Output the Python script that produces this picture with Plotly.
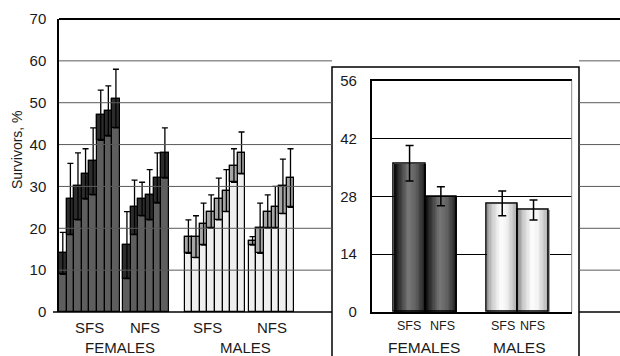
import plotly.graph_objects as go

# ---------------- data (main chart) ----------------
group_labels = ["SFS", "NFS", "SFS", "NFS"]
sex_labels = ["FEMALES", "MALES"]

female_sfs = [14, 27, 30, 33, 36, 47, 48, 51]
female_sfs_err = [5, 8.5, 8, 6, 8, 6, 6, 7]
female_nfs = [16, 25, 27, 28, 32, 38]
female_nfs_err = [8, 6.5, 4, 6, 6, 6]
male_sfs = [18, 18, 21, 24, 27, 29, 35, 38]
male_sfs_err = [4, 5, 5, 4, 5, 5, 4, 5]
male_nfs = [17, 20, 24, 25, 30, 32]
male_nfs_err = [1, 6, 4, 5, 6.5, 7]

y_ticks = [0, 10, 20, 30, 40, 50, 60, 70]

# ---------------- data (inset) ----------------
inset_cats = ["SFS", "NFS"]
inset_female = [36, 28]
inset_female_err = [4.3, 2.3]
inset_male = [26.3, 24.7]
inset_male_err = [3.0, 2.4]
inset_ticks = [0, 14, 28, 42, 56]

# ---------------- layout geometry ----------------
W, H = 620, 356
ML, MR, MT, MB = 59, 0, 19, 44
PW, PH = W - ML - MR, H - MT - MB
BAR_PX = 7.59
group_starts = [0, 8.45, 16.55, 25.0]
FONT = "Liberation Sans, Arial, Helvetica, sans-serif"


def px_x(px):
    return (px - ML) / PW


def px_y(py):
    return (MT + PH - py) / PH


fig = go.Figure()

main_sets = [
    (female_sfs, female_sfs_err, "#5e5e5e", "#2c2c2c"),
    (female_nfs, female_nfs_err, "#5e5e5e", "#2c2c2c"),
    (male_sfs, male_sfs_err, "#efefef", "#a6a6a6"),
    (male_nfs, male_nfs_err, "#efefef", "#a6a6a6"),
]
for (vals, errs, col, band), start in zip(main_sets, group_starts):
    xs = [start + i + 0.5 for i in range(len(vals))]
    fig.add_trace(go.Bar(
        x=xs, y=vals, width=1, marker=dict(color=col, line=dict(color="#000", width=1.2)),
        showlegend=False, xaxis="x", yaxis="y"))
    fig.add_trace(go.Bar(
        x=xs, y=errs, base=[v - e for v, e in zip(vals, errs)], width=1,
        marker=dict(color=band, line=dict(color="#000", width=1.2)),
        error_y=dict(type="data", array=errs, symmetric=True, color="#000", thickness=1.3, width=3),
        showlegend=False, xaxis="x", yaxis="y"))

# ---------------- inset bars with cylinder shading ----------------
inset_x = [1.21, 2.21, 4.17, 5.17]
inset_vals = inset_female + inset_male
inset_errs = inset_female_err + inset_male_err

fem_prof = [(0, 8), (0.15, 48), (0.45, 120), (0.7, 96), (0.9, 48), (1.0, 20)]
male_prof = [(0, 140), (0.15, 200), (0.42, 252), (0.62, 244), (0.85, 196), (1.0, 160)]


def interp(prof, t):
    for (t0, v0), (t1, v1) in zip(prof[:-1], prof[1:]):
        if t0 <= t <= t1:
            return v0 + (v1 - v0) * (t - t0) / (t1 - t0)
    return prof[-1][1]


N = 24
for k in range(N):
    t = (k + 0.5) / N
    off = -0.5 + k / N
    wdt = min(2.0 / N, 0.5 - off)
    gf = int(round(interp(fem_prof, t)))
    gm = int(round(interp(male_prof, t)))
    cf = f"rgb({gf},{gf},{gf})"
    cm = f"rgb({gm},{gm},{gm})"
    fig.add_trace(go.Bar(
        x=inset_x, y=inset_vals, width=wdt, offset=off,
        marker=dict(color=[cf, cf, cm, cm], line=dict(width=0)),
        showlegend=False, xaxis="x2", yaxis="y2"))

fig.add_trace(go.Bar(
    x=inset_x, y=inset_vals, width=1,
    marker=dict(color="rgba(0,0,0,0)", line=dict(color="#000", width=1.5)),
    error_y=dict(type="data", array=inset_errs, symmetric=True, color="#000", thickness=1.5, width=4),
    showlegend=False, xaxis="x2", yaxis="y2"))

# ---------------- shapes ----------------
box_x0, box_x1 = px_x(332), px_x(579)
box_top = px_y(67)
shapes = []
ymax = y_ticks[-1]
for v in y_ticks:
    yy = v / ymax
    if v == ymax:
        shapes.append(dict(type="line", xref="paper", yref="paper", x0=0, x1=1, y0=yy, y1=yy,
                           line=dict(color="#000", width=2)))
        continue
    col = "#000" if v == 0 else "#5a5a5a"
    wd = 1.3 if v == 0 else 1
    x_start = px_x(53) if v == 0 else 0
    shapes.append(dict(type="line", xref="paper", yref="paper", x0=x_start, x1=box_x0, y0=yy, y1=yy,
                       line=dict(color=col, width=wd)))
    shapes.append(dict(type="line", xref="paper", yref="paper", x0=box_x1, x1=1, y0=yy, y1=yy,
                       line=dict(color=col, width=wd)))

shapes.append(dict(type="rect", xref="paper", yref="paper", x0=box_x0, x1=box_x1, y0=-0.4, y1=box_top,
                   line=dict(color="#000", width=1.5), fillcolor="rgba(0,0,0,0)", layer="below"))
shapes.append(dict(type="line", xref="x2 domain", yref="y2 domain", x0=1, x1=1, y0=0, y1=1,
                   line=dict(color="#8a8a8a", width=1)))

# ---------------- annotations ----------------
ann = []


def label(text, px, py, size, angle=0):
    ann.append(dict(text=text, xref="paper", yref="paper", x=px_x(px), y=px_y(py),
                    xanchor="center", yanchor="middle", textangle=angle, showarrow=False,
                    font=dict(size=size, color="#1a1a1a", family=FONT)))


label("Survivors, %", 17, 150, 14, -90)
for lab, px in zip(group_labels, [89, 145, 207, 272]):
    label(lab, px, 327, 15)
for lab, px in zip(sex_labels, [120, 245]):
    label(lab, px, 347, 15)
for lab, px in zip(inset_cats + inset_cats, [409, 442, 503, 532]):
    label(lab, px, 326, 12.5)
for lab, px in zip(sex_labels, [424, 519]):
    label(lab, px, 347, 15.5)

fig.update_layout(
    width=W, height=H,
    margin=dict(l=ML, r=MR, t=MT, b=MB, pad=0),
    paper_bgcolor="white", plot_bgcolor="rgba(0,0,0,0)",
    barmode="overlay", bargap=0,
    font=dict(family=FONT, color="#1a1a1a"),
    shapes=shapes, annotations=ann,
    xaxis=dict(domain=[0, 1], range=[0, PW / BAR_PX], visible=False, fixedrange=True),
    yaxis=dict(domain=[0, 1], range=[0, ymax], tickvals=y_ticks, showgrid=False, zeroline=False,
               showline=True, linecolor="#000", linewidth=1.5, ticks="", ticklabelstandoff=8,
               tickfont=dict(size=15, family=FONT, color="#1a1a1a")),
    xaxis2=dict(domain=[px_x(371.7), px_x(571.7)], range=[0, 6.39], anchor="y2",
                showline=True, mirror=True, linecolor="#000", linewidth=1.5,
                showticklabels=False, ticks="", showgrid=False, zeroline=False),
    yaxis2=dict(domain=[0, px_y(80.7)], range=[0, 56], anchor="x2", tickvals=inset_ticks,
                showgrid=True, gridcolor="#000", gridwidth=1, zeroline=False,
                showline=True, linecolor="#000", linewidth=1.5, ticks="", ticklabelstandoff=10,
                tickfont=dict(size=15, family=FONT, color="#1a1a1a")),
    showlegend=False,
)

fig.write_html("out.html", config={"displayModeBar": False},
               post_script="document.body.style.margin='0';document.body.style.padding='0';")
